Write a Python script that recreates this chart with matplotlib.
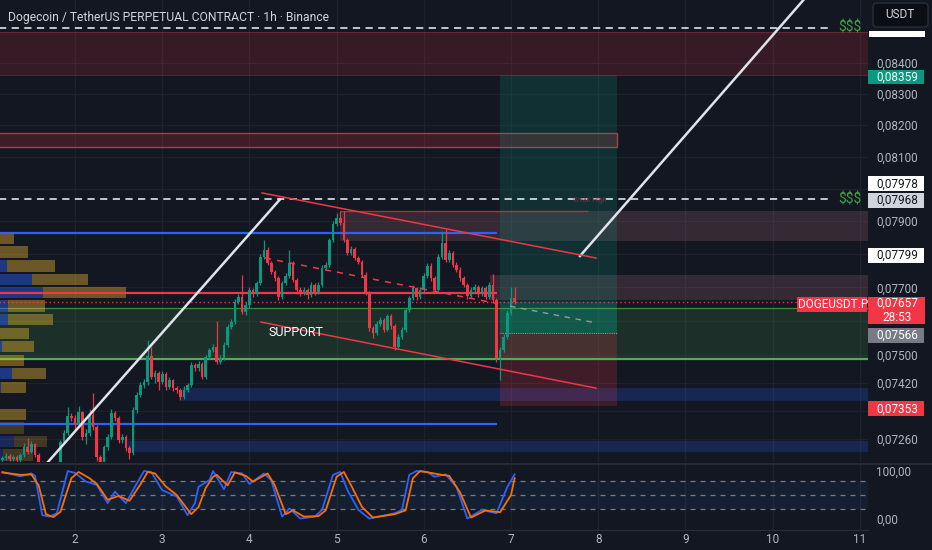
import numpy as np
import matplotlib.pyplot as plt
from matplotlib.patches import Rectangle, FancyBboxPatch
from matplotlib.lines import Line2D
from matplotlib.transforms import IdentityTransform
from matplotlib.ticker import FixedLocator, NullFormatter, FuncFormatter

plt.rcParams['font.family'] = ['Roboto', 'DejaVu Sans']

W, H = 932, 550
BG = '#131722'
GRID = '#1e222d'
TXT = '#b2b5be'
UP = '#089981'
DOWN = '#f23645'
BLUE = '#2962ff'

title = 'Dogecoin / TetherUS PERPETUAL CONTRACT · 1h · Binance'

# 1h candles, the first one at day 1 04:00
start_day = 1 + 4 / 24
first_open = 0.07201
closes = [
    0.07207, 0.07213, 0.07204, 0.07210, 0.07201, 0.07216, 0.07238, 0.07224, 0.07247, 0.07216,
    0.07196, 0.07184, 0.07173, 0.07165, 0.07170, 0.07179, 0.07252, 0.07278, 0.07326, 0.07320,
    0.07300, 0.07337, 0.07267, 0.07278, 0.07329, 0.07295, 0.07210, 0.07196, 0.07238, 0.07267,
    0.07335, 0.07320, 0.07258, 0.07267, 0.07235, 0.07221, 0.07343, 0.07386, 0.07414, 0.07422,
    0.07498, 0.07437, 0.07449, 0.07422, 0.07446, 0.07408, 0.07428, 0.07405, 0.07400, 0.07380,
    0.07400, 0.07414, 0.07472, 0.07463, 0.07475, 0.07437, 0.07495, 0.07516, 0.07525, 0.07481,
    0.07492, 0.07530, 0.07583, 0.07598, 0.07656, 0.07671, 0.07627, 0.07647, 0.07692, 0.07680,
    0.07713, 0.07792, 0.07813, 0.07774, 0.07747, 0.07728, 0.07671, 0.07713, 0.07734, 0.07774,
    0.07722, 0.07692, 0.07686, 0.07692, 0.07677, 0.07707, 0.07686, 0.07707, 0.07759, 0.07768,
    0.07843, 0.07892, 0.07910, 0.07895, 0.07843, 0.07804, 0.07816, 0.07789, 0.07777, 0.07738,
    0.07683, 0.07580, 0.07565, 0.07592, 0.07604, 0.07574, 0.07615, 0.07586, 0.07525, 0.07554,
    0.07574, 0.07633, 0.07668, 0.07698, 0.07671, 0.07692, 0.07734, 0.07765, 0.07728, 0.07692,
    0.07792, 0.07834, 0.07783, 0.07804, 0.07768, 0.07753, 0.07728, 0.07707, 0.07674, 0.07692,
    0.07701, 0.07680, 0.07698, 0.07671, 0.07707, 0.07662, 0.07492, 0.07516, 0.07554, 0.07624,
    0.07668, 0.07657,
]
highs = [
    0.07214, 0.07220, 0.07218, 0.07216, 0.07215, 0.07222, 0.07250, 0.07262, 0.07255, 0.07250,
    0.07220, 0.07200, 0.07188, 0.07178, 0.07176, 0.07186, 0.07258, 0.07285, 0.07350, 0.07335,
    0.07328, 0.07355, 0.07340, 0.07288, 0.07345, 0.07390, 0.07300, 0.07215, 0.07244, 0.07275,
    0.07345, 0.07340, 0.07325, 0.07275, 0.07272, 0.07240, 0.07350, 0.07395, 0.07422, 0.07432,
    0.07545, 0.07525, 0.07458, 0.07455, 0.07455, 0.07450, 0.07436, 0.07432, 0.07410, 0.07405,
    0.07410, 0.07420, 0.07480, 0.07478, 0.07482, 0.07480, 0.07502, 0.07522, 0.07532, 0.07600,
    0.07500, 0.07538, 0.07590, 0.07605, 0.07664, 0.07680, 0.07736, 0.07655, 0.07700, 0.07698,
    0.07720, 0.07800, 0.07843, 0.07820, 0.07780, 0.07752, 0.07735, 0.07720, 0.07742, 0.07812,
    0.07780, 0.07728, 0.07700, 0.07700, 0.07698, 0.07715, 0.07712, 0.07715, 0.07766, 0.07776,
    0.07850, 0.07900, 0.07925, 0.07932, 0.07930, 0.07850, 0.07824, 0.07822, 0.07795, 0.07782,
    0.07745, 0.07690, 0.07586, 0.07600, 0.07612, 0.07610, 0.07622, 0.07620, 0.07590, 0.07562,
    0.07582, 0.07640, 0.07675, 0.07706, 0.07702, 0.07700, 0.07742, 0.07774, 0.07772, 0.07735,
    0.07800, 0.07870, 0.07875, 0.07812, 0.07810, 0.07775, 0.07760, 0.07735, 0.07712, 0.07700,
    0.07710, 0.07706, 0.07705, 0.07704, 0.07715, 0.07740, 0.07668, 0.07524, 0.07562, 0.07632,
    0.07700, 0.07700,
]
lows = [
    0.07195, 0.07202, 0.07199, 0.07198, 0.07195, 0.07196, 0.07210, 0.07218, 0.07220, 0.07210,
    0.07188, 0.07178, 0.07165, 0.07158, 0.07160, 0.07166, 0.07175, 0.07248, 0.07272, 0.07312,
    0.07290, 0.07296, 0.07258, 0.07245, 0.07270, 0.07285, 0.07200, 0.07185, 0.07190, 0.07230,
    0.07260, 0.07312, 0.07250, 0.07250, 0.07228, 0.07205, 0.07215, 0.07335, 0.07380, 0.07405,
    0.07415, 0.07430, 0.07420, 0.07400, 0.07416, 0.07400, 0.07402, 0.07398, 0.07390, 0.07372,
    0.07374, 0.07395, 0.07408, 0.07455, 0.07455, 0.07430, 0.07432, 0.07488, 0.07510, 0.07475,
    0.07474, 0.07486, 0.07525, 0.07578, 0.07592, 0.07650, 0.07620, 0.07618, 0.07640, 0.07672,
    0.07674, 0.07706, 0.07785, 0.07766, 0.07740, 0.07720, 0.07662, 0.07664, 0.07706, 0.07728,
    0.07715, 0.07680, 0.07675, 0.07678, 0.07665, 0.07670, 0.07676, 0.07680, 0.07700, 0.07752,
    0.07760, 0.07836, 0.07886, 0.07888, 0.07836, 0.07796, 0.07798, 0.07782, 0.07770, 0.07730,
    0.07676, 0.07570, 0.07550, 0.07560, 0.07585, 0.07567, 0.07570, 0.07578, 0.07516, 0.07520,
    0.07548, 0.07568, 0.07626, 0.07662, 0.07663, 0.07665, 0.07686, 0.07728, 0.07720, 0.07684,
    0.07688, 0.07786, 0.07776, 0.07776, 0.07760, 0.07745, 0.07720, 0.07700, 0.07666, 0.07668,
    0.07686, 0.07672, 0.07675, 0.07664, 0.07666, 0.07655, 0.07480, 0.07428, 0.07508, 0.07548,
    0.07618, 0.07650,
]

# stoch rsi (candle index, value)
k_idx = [0, 5, 8, 9, 11, 13, 15, 18, 20, 23, 26, 29, 31, 34, 37, 39, 41, 44, 48, 51, 53, 54,
         57, 58, 61, 63, 66, 68, 72, 74, 77, 79, 82, 86, 88, 91, 93, 95, 98, 101, 108, 110,
         112, 114, 117, 119, 122, 125, 128, 132, 136, 139, 141]
k_val = [98, 89, 95, 90, 8, 5, 12, 100, 96, 78, 71, 33, 57, 33, 74, 100, 98, 60, 47, 8, 33, 67,
         81, 100, 62, 98, 95, 73, 95, 81, 5, 22, 1, 5, 19, 92, 98, 60, 19, 1, 12, 19,
         92, 100, 98, 88, 93, 67, 1, 19, 12, 67, 93]
d_idx = [0, 5, 8, 10, 12, 14, 16, 19, 21, 24, 26, 29, 32, 35, 38, 40, 42, 45, 48, 52, 54, 56,
         58, 59, 62, 64, 67, 69, 73, 75, 78, 80, 83, 87, 89, 92, 94, 96, 99, 102, 108, 111,
         113, 115, 118, 121, 123, 126, 129, 133, 137, 140, 141]
d_val = [97, 92, 93, 70, 10, 4, 15, 85, 98, 85, 73, 40, 48, 38, 72, 98, 95, 68, 50, 10, 25, 65,
         88, 92, 70, 97, 90, 78, 95, 70, 10, 18, 5, 6, 18, 88, 98, 70, 25, 3, 10, 18,
         85, 100, 96, 92, 90, 55, 3, 18, 14, 50, 85]

# levels and zones drawn on the chart (prices)
liq_high = 0.08515
liq_low = 0.07968
supply_top = (0.08361, 0.08502)
supply_mid = (0.08131, 0.08175)
supply_peak = (0.07839, 0.07930)
supply_small = (0.07662, 0.07737)
support_zone = (0.07488, 0.07638)
demand_1 = (0.07367, 0.07405)
demand_2 = (0.07224, 0.07255)
blue_top_line = 0.07864
blue_low_line = 0.07302
red_line = 0.07683
last_price = 0.07657
target = 0.08359
entry = 0.07566
stop = 0.07353
marked_level = 0.07799
marked_high = 0.07978

# trendlines (day, price)
trend_up1 = ([1.679, 4.351], [0.07193, 0.07967])
trend_up2 = ([7.791, 10.658], [0.07794, 0.08709])
chan_upper = ([4.144, 7.975], [0.07987, 0.07788])
chan_lower = ([4.133, 7.975], [0.07597, 0.07405])
chan_mid = ([4.179, 6.839], [0.07788, 0.07652])
chan_mid_proj = ([6.989, 7.929], [0.07644, 0.07597])
pos_x = (6.875, 8.216)

# volume profile rows, top to bottom
vp_edges = [0.07867, 0.07826, 0.07785, 0.07744, 0.07704, 0.07664, 0.07624, 0.07584, 0.07544,
            0.07505, 0.07466, 0.07427, 0.07388, 0.07349, 0.07311, 0.07273, 0.07235, 0.07197]
vp_up = [0, 0, 7, 32, 43, 8, 8, 0, 2, 0, 12, 1, 0, 0, 0, 14, 3]
vp_down = [14, 28, 48, 56, 83, 37, 45, 29, 32, 24, 34, 25, 0, 26, 24, 33, 30]

# labelled price ticks, and the ones hidden behind the scale labels
price_ticks = [0.0726, 0.0742, 0.075, 0.077, 0.079, 0.081, 0.082, 0.083, 0.084]
hidden_ticks = [0.0734, 0.076, 0.078, 0.080]
day_ticks = list(range(2, 12))

XMIN, XMAX = 1.14, 11.094


def fmt(v, d=5):
    return f'{v:.{d}f}'.replace('.', ',')


fig = plt.figure(figsize=(W / 100, H / 100), dpi=100, facecolor=BG)
ax = fig.add_axes([0, 1 - 462 / H, 868 / W, 462 / H], facecolor=BG)
osc = fig.add_axes([0, 20 / H, 868 / W, 67 / H], facecolor=BG)

ax.set_yscale('log')
ax.set_xlim(XMIN, XMAX)
ax.set_ylim(0.07196, 0.08607)
ax.yaxis.set_major_locator(FixedLocator(price_ticks))
ax.yaxis.set_minor_locator(FixedLocator(hidden_ticks))
ax.yaxis.set_major_formatter(FuncFormatter(lambda v, _: fmt(v)))
ax.yaxis.set_minor_formatter(NullFormatter())
ax.yaxis.tick_right()
ax.set_xticks(day_ticks)
ax.tick_params(axis='x', length=0, labelbottom=False)
ax.tick_params(axis='y', which='both', length=0, pad=6, labelcolor=TXT, labelsize=8.5)
ax.grid(True, which='both', color=GRID, lw=0.9)
ax.set_axisbelow(True)
for s in ax.spines.values():
    s.set_visible(False)


def zone(x0, x1, lo, hi, fc, alpha, ec='none', lw=0, z=1):
    ax.add_patch(Rectangle((x0, lo), x1 - x0, hi - lo, facecolor=fc, alpha=alpha,
                           edgecolor='none', zorder=z))
    if ec != 'none':
        ax.add_patch(Rectangle((x0, lo), x1 - x0, hi - lo, facecolor='none',
                               edgecolor=ec, lw=lw, zorder=z))


# zones
zone(0.5, 12, *supply_top, DOWN, 0.16)
ax.hlines(list(supply_top), 0.5, 12, color=DOWN, alpha=0.3, lw=0.8, zorder=1)
zone(0.5, pos_x[1], *supply_mid, DOWN, 0.2, ec='#b23a48', lw=1.0)
zone(5.039, 12, *supply_peak, '#b26a78', 0.22)
ax.hlines(supply_peak[1], 5.039, 7.883, color=DOWN, alpha=0.6, lw=1.0, zorder=2)
zone(6.759, 12, *supply_small, '#b26a78', 0.22)
zone(0.5, 12, *support_zone, '#4caf50', 0.17)
ax.hlines(support_zone[1], 0.5, 12, color='#4caf50', alpha=0.7, lw=0.9, zorder=2)
ax.hlines(support_zone[0], 0.5, 12, color='#4caf50', lw=1.6, zorder=2)
zone(3.227, 12, *demand_1, BLUE, 0.22)
zone(2.608, 12, *demand_2, BLUE, 0.22)

# long position tool
zone(pos_x[0], pos_x[1], entry, target, UP, 0.2, z=1)
zone(pos_x[0], pos_x[1], stop, entry, DOWN, 0.2, z=1)
zone(pos_x[0], pos_x[1], entry, last_price, UP, 0.25, z=1)
ax.hlines(entry, pos_x[0], pos_x[1], color='#9598a1', lw=0.8, ls=(0, (1, 1)), zorder=3)

# volume profile on the left edge
ytr = ax.get_yaxis_transform()
for k in range(len(vp_up)):
    hi = vp_edges[k] / 1.0004
    lo = vp_edges[k + 1] * 1.0004
    dim = k >= 14
    up_w = vp_up[k] / 868
    dn_w = vp_down[k] / 868
    ax.add_patch(Rectangle((0, lo), up_w, hi - lo, transform=ytr, facecolor=BLUE,
                           alpha=0.25 if dim else 0.45, edgecolor='none', zorder=2))
    ax.add_patch(Rectangle((up_w, lo), dn_w, hi - lo, transform=ytr, facecolor='#fbc02d',
                           alpha=0.2 if dim else 0.38, edgecolor='none', zorder=2))

# horizontal levels
ax.hlines(blue_top_line, 0.5, 6.839, color=BLUE, lw=1.6, zorder=3)
ax.hlines(blue_low_line, 0.5, 6.839, color=BLUE, lw=1.6, zorder=3)
ax.hlines(red_line, 0.5, 6.839, color=DOWN, lw=1.6, zorder=3)
ax.hlines(last_price, 0.5, 12, color=DOWN, lw=1.0, ls=(0, (1, 2)), zorder=3)
ax.hlines([liq_high, liq_low], 0.5, 10.69, color='#d1d4dc', lw=1.3, ls=(0, (4, 3)), zorder=3)
for p in (liq_high, liq_low):
    ax.text(10.882, p, '$$$', color='#43a047', fontsize=10, ha='center', va='center', zorder=6)
ax.text(7.906, 0.07962, 'Weak High', color='#7a2f3a', fontsize=5, ha='center',
        va='center', zorder=6)

# channel
ax.plot(*chan_upper, color=DOWN, lw=1.1, zorder=6)
ax.plot(*chan_lower, color=DOWN, lw=1.1, zorder=6)
ax.plot(*chan_mid, color=DOWN, lw=1.1, ls=(0, (4, 4)), zorder=6)
ax.plot(*chan_mid_proj, color='#9598a1', lw=1.0, ls=(0, (4, 4)), zorder=6)

# candles
x = start_day + np.arange(len(closes)) / 24
o = np.array([first_open] + closes[:-1])
c = np.array(closes)
cols = [UP if cc >= oo else DOWN for oo, cc in zip(o, c)]
ax.vlines(x, lows, highs, colors=cols, lw=0.9, zorder=4)
ax.bar(x, np.abs(c - o), bottom=np.minimum(o, c), width=0.72 / 24, color=cols, zorder=4)

# white trendlines
ax.plot(*trend_up1, color='#e0e3eb', lw=1.8, zorder=5)
ax.plot(*trend_up2, color='#e0e3eb', lw=1.8, zorder=5)

ax.text(4.534, 0.07565, 'SUPPORT', color='white', fontsize=9, ha='center', va='center',
        zorder=6)

# stoch rsi pane
osc.set_xlim(XMIN, XMAX)
osc.set_ylim(-22.9, 116.7)
osc.axhspan(20, 80, color='#2196f3', alpha=0.08, lw=0)
osc.hlines([20, 50, 80], XMIN, XMAX, color='#787b86', lw=0.9, ls=(0, (4, 4)))
osc.plot(start_day + np.array(k_idx) / 24, k_val, color=BLUE, lw=1.3, zorder=3)
osc.plot(start_day + np.array(d_idx) / 24, d_val, color='#ff6d00', lw=1.3, zorder=3)
osc.yaxis.tick_right()
osc.set_yticks([0, 100])
osc.set_yticklabels(['0,00', '100,00'])
osc.set_xticks(day_ticks)
osc.set_xticklabels([str(d) for d in day_ticks])
osc.tick_params(length=0, labelcolor=TXT, labelsize=8.5)
osc.tick_params(axis='y', pad=6)
osc.tick_params(axis='x', pad=2)
osc.grid(True, axis='x', color=GRID, lw=0.9)
osc.set_axisbelow(True)
for s in osc.spines.values():
    s.set_visible(False)

fig.add_artist(Line2D([0, 1], [1 - 463.5 / H] * 2, color='#2a2e39', lw=1.2))
fig.add_artist(Line2D([0, 868 / W], [20 / H] * 2, color='#2a2e39', lw=0.8))

# labels in the price scale, in pixel coordinates
PIX = IdentityTransform()


def img_y(price):
    return H - ax.transData.transform((3, price))[1]


def box(x0, y0, w, h, fc, ec='none', lw=0, r=0, z=10):
    style = f'round,pad=0,rounding_size={r}' if r else 'square,pad=0'
    fig.add_artist(FancyBboxPatch((x0, H - y0 - h), w, h, boxstyle=style, facecolor=fc,
                                  edgecolor=ec, lw=lw, transform=PIX, zorder=z))


def label(text, yc, fc, tc, x0=868, w=56, h=15, size=8.5):
    box(x0, yc - h / 2, w, h, fc)
    fig.text(x0 + w / 2 + 1, H - yc, text, transform=PIX, color=tc, fontsize=size,
             ha='center', va='center', zorder=11)


box(869, 31, 56, 6, 'white')
box(873, 3, 55, 24, '#0c0e15', ec='#2a2e39', lw=1, r=4)
fig.text(900, H - 15, 'USDT', transform=PIX, color='#d1d4dc', fontsize=8.5,
         ha='center', va='center', zorder=11)

label(fmt(target), img_y(target) + 1.8, UP, 'white', h=14)
label(fmt(marked_high), img_y(marked_high) - 12, 'white', BG)
label(fmt(liq_low), img_y(liq_low) + 1, '#d1d4dc', BG)
label(fmt(marked_level), img_y(marked_level) + 1, 'white', BG)
yl = img_y(last_price)
box(868, yl - 5, 57, 27, DOWN)
fig.text(897, H - (yl + 1.5), fmt(last_price), transform=PIX, color='white',
         fontsize=8.5, ha='center', va='center', zorder=11)
fig.text(897, H - (yl + 15.5), '28:53', transform=PIX, color='white',
         fontsize=8.5, ha='center', va='center', zorder=11)
label('DOGEUSDT.P', yl + 2.5, DOWN, 'white', x0=797, w=70)
label(fmt(entry), img_y(entry) + 2.6, '#787b86', 'white')
label(fmt(stop), img_y(stop) + 2.5, DOWN, 'white')

fig.text(8, H - 17, title, transform=PIX, color='#d1d4dc', fontsize=8.7,
         ha='left', va='center', zorder=11)

fig.savefig('out.png', dpi=100, facecolor=BG)
